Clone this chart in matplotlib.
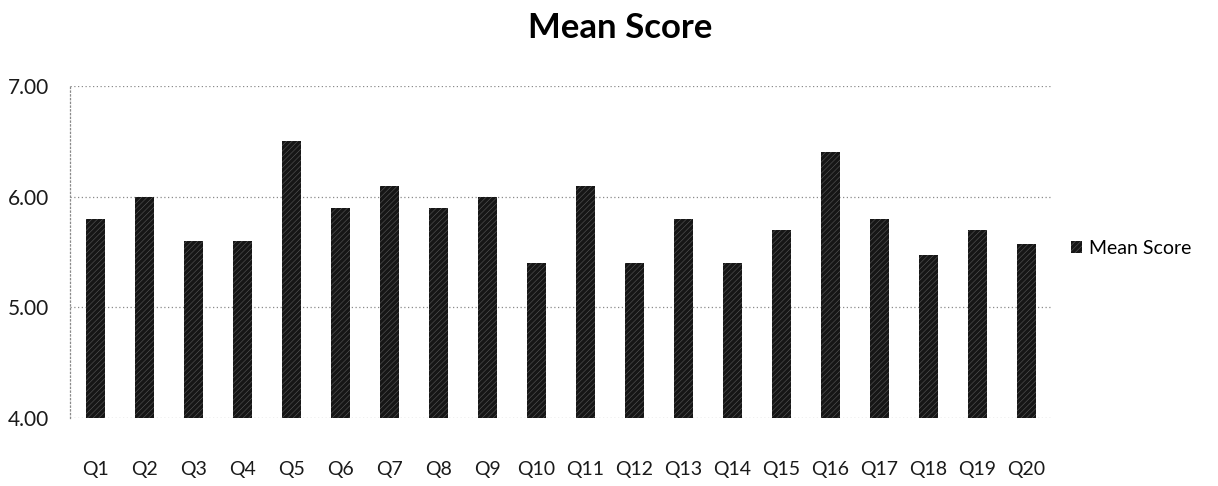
#plot_mean_score.py
import numpy as np
from matplotlib import pyplot as plt

# Mean score per question
questions = ['Q1', 'Q2', 'Q3', 'Q4', 'Q5', 'Q6', 'Q7', 'Q8', 'Q9', 'Q10',
             'Q11', 'Q12', 'Q13', 'Q14', 'Q15', 'Q16', 'Q17', 'Q18', 'Q19', 'Q20']
mean_score = [5.8, 6.0, 5.6, 5.6, 6.5, 5.9, 6.1, 5.9, 6.0, 5.4,
              6.1, 5.4, 5.8, 5.4, 5.7, 6.4, 5.8, 5.47, 5.7, 5.57]
y_ticks = [4.0, 5.0, 6.0, 7.0]

plt.rcParams['font.family'] = ['Lato', 'DejaVu Sans']
plt.rcParams['hatch.color'] = '#5a5a5a'
plt.rcParams['hatch.linewidth'] = 0.4

fig = plt.figure(figsize=(12.18, 4.86), dpi=100)
ax = fig.add_axes([0.0575, 0.14, 0.806, 0.683])

x = np.arange(len(questions))
ax.bar(x, np.array(mean_score) - 4.0, bottom=4.0, width=0.39,
       color='#161616', hatch='//////', linewidth=0, label='Mean Score', zorder=3)

ax.set_xlim(-0.52, len(questions) - 0.48)
ax.set_ylim(4.0, 7.0)
ax.set_yticks(y_ticks)
ax.set_yticklabels(['%.2f' % v for v in y_ticks], fontsize=15, color='#1a1a1a')
ax.set_xticks(x)
ax.set_xticklabels(questions, fontsize=14, color='#1a1a1a')
ax.tick_params(axis='both', length=0)
ax.tick_params(axis='y', pad=15)
ax.tick_params(axis='x', pad=31)

# dotted grid, dotted left axis
ax.grid(axis='y', linestyle=(0, (1, 2)), color='#8a8a8a', linewidth=0.9, zorder=0)
for side in ['top', 'right', 'bottom']:
    ax.spines[side].set_visible(False)
ax.spines['left'].set_linestyle((0, (1, 2)))
ax.spines['left'].set_color('#8a8a8a')
ax.spines['left'].set_linewidth(0.9)

fig.suptitle('Mean Score', x=0.509, y=0.975, fontsize=25, fontweight='bold')

ax.legend(loc='center left', bbox_to_anchor=(1.012, 0.51), frameon=False,
          fontsize=14, handlelength=0.55, handleheight=0.55, handletextpad=0.35,
          borderaxespad=0)

fig.savefig('out.png', dpi=100)
